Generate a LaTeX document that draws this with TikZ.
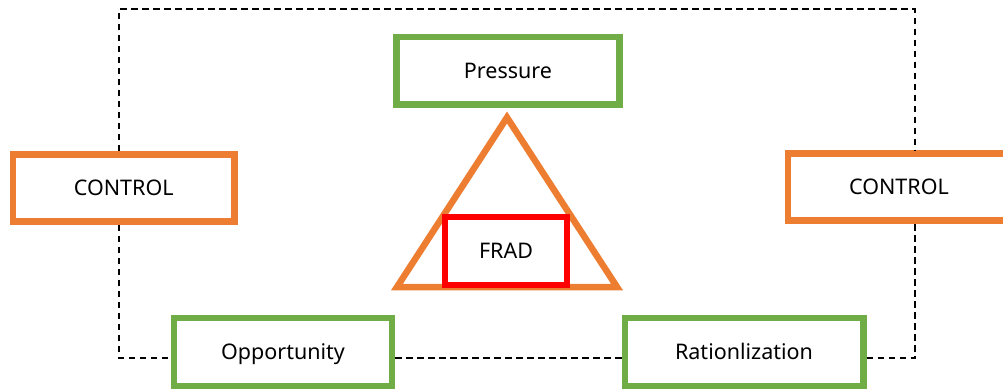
\documentclass[tikz,border=0pt]{standalone}
\usepackage{fontspec}
\setmainfont{Noto Sans}
\definecolor{boxgreen}{HTML}{70AD47}
\definecolor{boxorange}{HTML}{ED7D31}
\definecolor{boxred}{HTML}{FF0000}
\begin{document}
\begin{tikzpicture}[x=1pt,y=-1pt,
  lbl/.style={font=\fontsize{21.5}{25}\selectfont, inner sep=0pt, text height=17.4pt, text depth=2.1pt, fill=white, line width=6.5pt, text=black},
  greenbox/.style={lbl, draw=boxgreen},
  orangebox/.style={lbl, draw=boxorange},
  redbox/.style={lbl, draw=boxred, line width=6pt},
  conn/.style={draw=black, line width=2pt, dash pattern=on 6.5pt off 4.5pt}]
\useasboundingbox (0,0) rectangle (1003,390);
\coordinate (c1) at (119,9.5);
\coordinate (c2) at (915,9.5);
\coordinate (c3) at (915,358);
\coordinate (c4) at (119,358);
% triangle
\draw[boxorange, line width=6.5pt, line join=miter] (507,117.5) -- (617,287) -- (397,287) -- cycle;
\node[greenbox, minimum width=223pt, minimum height=67.5pt] (pres) at (508,70.75) {Pressure};
\node[orangebox, minimum width=221.5pt, minimum height=67pt] (cl) at (123.75,188) {CONTROL};
\node[orangebox, minimum width=222pt, minimum height=67pt] (cr) at (899,187) {CONTROL};
\node[greenbox, minimum width=217.7pt, minimum height=68pt] (opp) at (283,352) {Opportunity};
\node[greenbox, minimum width=238.5pt, minimum height=68pt] (rat) at (744,352) {Rationlization};
\node[redbox, minimum width=122pt, minimum height=68.5pt] (frad) at (506,250.75) {FRAD};
% dashed connectors
\draw[conn] (cl.north -| c1) -- (c1) -- (c2) -- (cr.north -| c2);
\draw[conn] (cl.south -| c1) -- (c4) -- (opp.west |- c4);
\draw[conn] (opp.east |- c4) -- (rat.west |- c4);
\draw[conn] (rat.east |- c3) -- (c3) -- (cr.south -| c3);
\end{tikzpicture}
\end{document}
